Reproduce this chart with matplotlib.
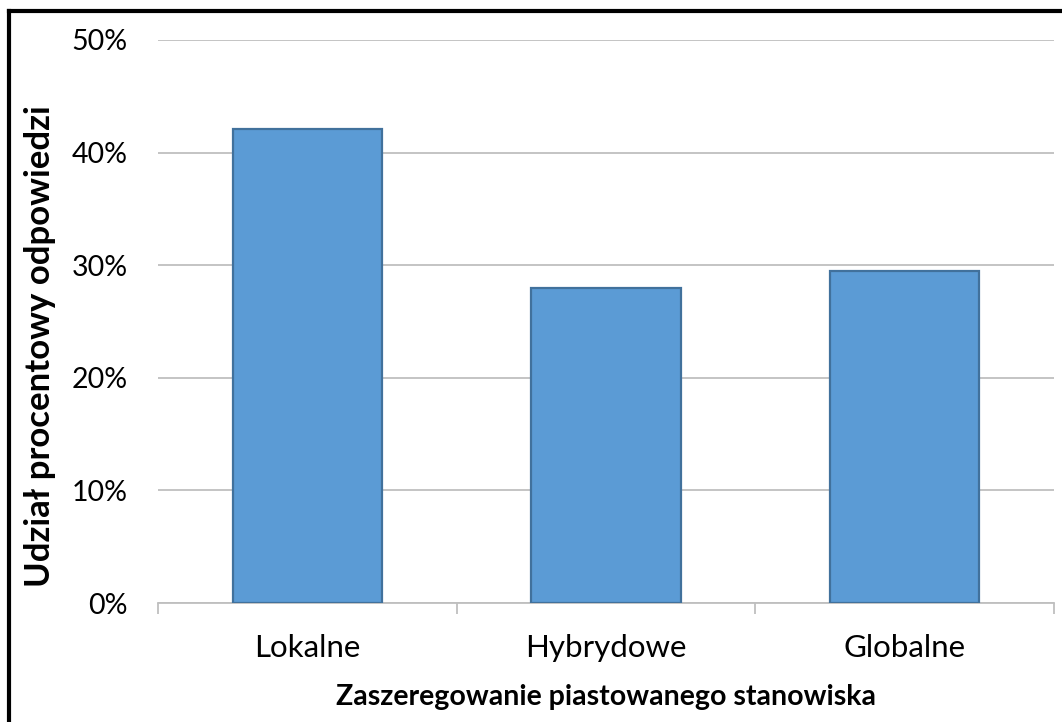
import matplotlib
matplotlib.use("Agg")
import matplotlib.pyplot as plt
from matplotlib.lines import Line2D
from matplotlib.ticker import FuncFormatter, FixedLocator

categories = ["Lokalne", "Hybrydowe", "Globalne"]
shares = [42.1, 28.0, 29.5]
y_ticks = [0, 10, 20, 30, 40, 50]

plt.rcParams["font.family"] = ["Lato", "DejaVu Sans"]

W, H = 1062, 722
fig = plt.figure(figsize=(W / 100, H / 100), dpi=100)
ax = fig.add_axes([158 / W, 1 - 603 / H, (1054 - 158) / W, (603 - 40) / H])

x = list(range(len(categories)))
ax.bar(x, shares, width=0.5, color="#5B9BD5", edgecolor="#41719C",
       linewidth=1.6, zorder=3)

ax.set_xlim(-0.5, len(categories) - 0.5)
ax.set_ylim(0, 50)
ax.set_yticks(y_ticks)
ax.yaxis.set_major_formatter(FuncFormatter(lambda v, p: f"{v:.0f}%"))
ax.grid(axis="y", color="#BFBFBF", linewidth=1.3, zorder=0)

ax.set_xticks(x)
ax.set_xticklabels(categories, fontsize=22.5)
ax.xaxis.set_minor_locator(FixedLocator([-0.5, 0.5, 1.5, 2.5]))
ax.tick_params(axis="x", which="major", length=0, pad=22)
ax.tick_params(axis="x", which="minor", length=8, width=1.3, color="#BFBFBF")
ax.tick_params(axis="y", length=0, labelsize=20.5, pad=22)

for s in ["top", "right", "left"]:
    ax.spines[s].set_visible(False)
ax.spines["bottom"].set_color("#BFBFBF")
ax.spines["bottom"].set_linewidth(1.3)

ax.set_ylabel("Udział procentowy odpowiedzi", fontsize=25, fontweight="bold",
              va="center", ha="center")
ax.yaxis.set_label_coords((40 - 158) / 896, (603 - 346) / 563)
ax.set_xlabel("Zaszeregowanie piastowanego stanowiska", fontsize=20.5,
              fontweight="bold", va="center", ha="center")
ax.xaxis.set_label_coords(0.5, (603 - 697) / 563)

# frame along the top and left edges of the figure
fig.add_artist(Line2D([9 / W, 9 / W], [0, 1 - 11 / H], color="black",
                      linewidth=3, transform=fig.transFigure))
fig.add_artist(Line2D([9 / W, 1], [1 - 11 / H, 1 - 11 / H], color="black",
                      linewidth=3, transform=fig.transFigure,
                      solid_capstyle="projecting"))

fig.savefig("out.png", dpi=100, facecolor="white")
